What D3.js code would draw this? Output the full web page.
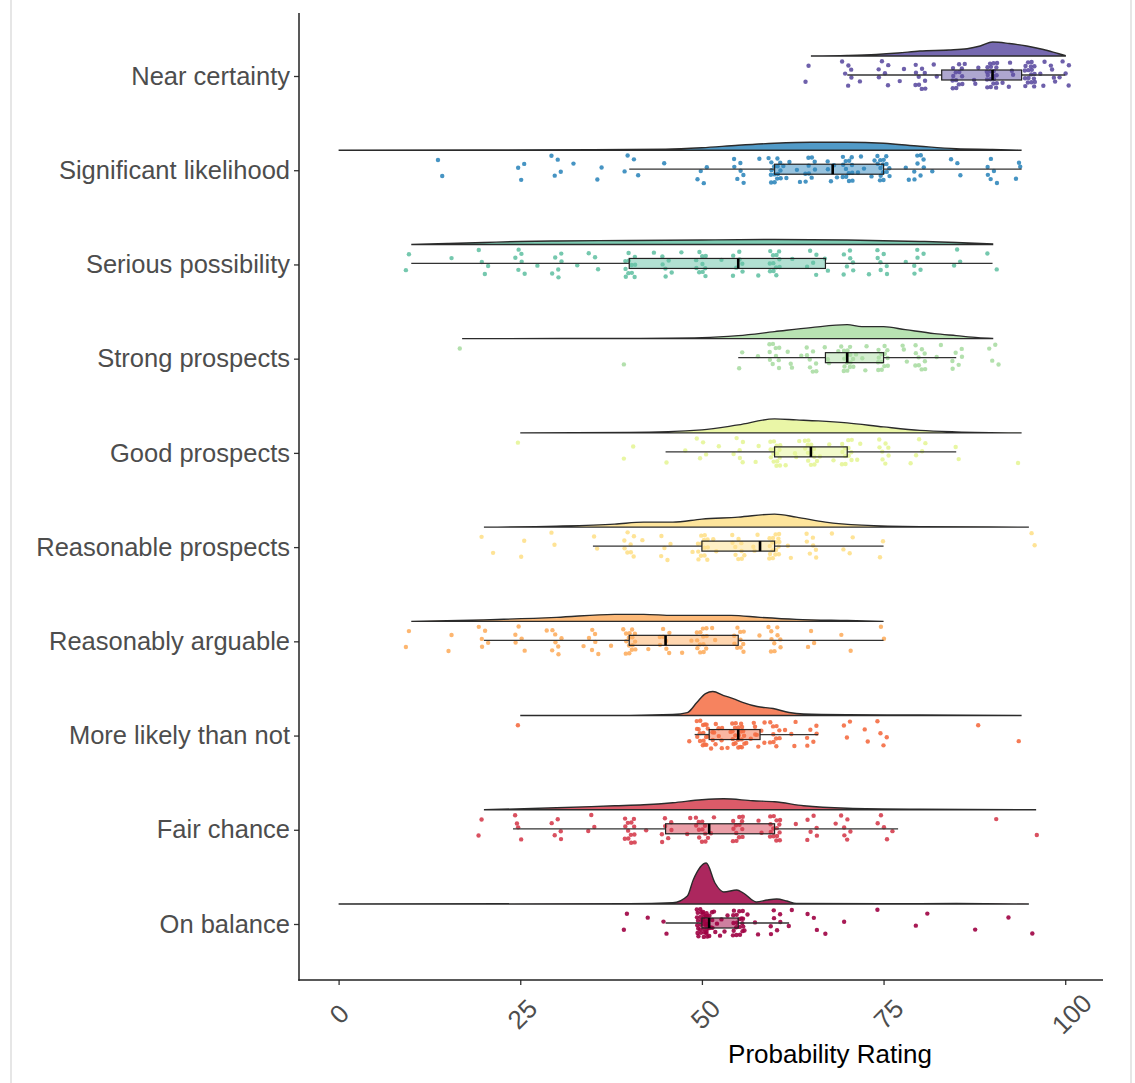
<!DOCTYPE html>
<html>
<head>
<meta charset="UTF-8">
<title>Probability Rating raincloud</title>
<script src="https://cdn.jsdelivr.net/npm/d3@7"></script>
<style>
  body { margin: 0; background: #fff; }
  svg text { font-family: "Liberation Sans", Arial, sans-serif; }
</style>
</head>
<body>
<script>
// categories, top to bottom
var categories = ["Near certainty", "Significant likelihood", "Serious possibility", "Strong prospects",
  "Good prospects", "Reasonable prospects", "Reasonably arguable", "More likely than not",
  "Fair chance", "On balance"];
var colors = ["#5e4fa2", "#3288bd", "#66c2a5", "#abdda4", "#e6f598",
  "#fee08b", "#fdae61", "#f46d43", "#d53e4f", "#9e0142"];
var xTicks = [0, 25, 50, 75, 100];

// ratings as [value, count]
var nearCertainty = [[65,2],[70,6],[72,1],[75,6],[77,1],[78,1],[80,10],[82,2],[85,13],[87,2],[88,2],[90,20],[92,3],[93,2],[95,18],[97,2],[98,3],[99,2],[100,5]];
var significantLikelihood = [[14,1],[15,1],[25,3],[30,4],[33,1],[35,1],[36,1],[40,3],[41,1],[45,1],[50,4],[55,7],[58,1],[60,15],[62,3],[63,2],[65,9],[68,5],[70,13],[72,3],[73,2],[75,15],[78,2],[80,8],[82,1],[85,3],[90,6],[93,2],[94,1]];
var seriousPossibility = [[10,2],[15,1],[20,4],[25,6],[28,1],[30,6],[33,1],[35,3],[40,11],[43,1],[45,6],[48,1],[50,10],[53,1],[55,7],[58,1],[60,12],[63,1],[65,5],[67,2],[70,7],[73,1],[75,7],[78,1],[80,6],[85,3],[90,2]];
var strongProspects = [[17,1],[40,1],[55,2],[58,1],[60,10],[62,2],[63,2],[65,8],[67,2],[68,2],[70,15],[72,3],[73,1],[75,13],[77,1],[78,2],[80,10],[82,1],[83,1],[85,6],[90,4]];
var goodProspects = [[25,1],[40,2],[45,1],[48,1],[50,4],[53,1],[55,6],[58,2],[60,15],[62,2],[63,2],[65,13],[67,2],[68,1],[70,12],[72,2],[75,8],[78,1],[80,4],[85,2],[94,1]];
var reasonableProspects = [[20,1],[22,1],[25,2],[30,2],[35,2],[40,8],[42,1],[45,5],[48,1],[50,13],[52,2],[55,10],[57,1],[58,2],[60,17],[62,2],[65,7],[68,1],[70,3],[75,2],[95,2]];
var reasonablyArguable = [[10,2],[15,2],[20,5],[25,5],[28,1],[30,7],[33,1],[35,6],[38,1],[40,15],[43,1],[45,8],[48,2],[50,13],[52,2],[55,10],[58,1],[60,10],[65,3],[70,2],[75,2]];
var moreLikely = [[25,1],[49,2],[50,13],[51,6],[52,9],[54,3],[55,18],[56,3],[57,3],[58,6],[60,10],[62,3],[63,1],[65,6],[70,3],[72,2],[75,4],[88,1],[94,1]];
var fairChance = [[20,2],[24,1],[25,3],[30,5],[35,3],[40,13],[42,1],[45,7],[48,2],[50,12],[52,2],[55,13],[58,2],[60,15],[63,1],[65,6],[68,1],[70,6],[75,4],[77,1],[90,1],[96,1]];
var onBalance = [[40,2],[42,1],[45,2],[50,30],[51,12],[52,4],[53,3],[55,18],[56,3],[57,2],[60,7],[62,2],[65,3],[67,1],[70,1],[75,1],[79,1],[81,1],[88,1],[93,1],[95,1]];
var ratings = [nearCertainty, significantLikelihood, seriousPossibility, strongProspects, goodProspects,
  reasonableProspects, reasonablyArguable, moreLikely, fairChance, onBalance];

// box stats: [lower whisker, q1, median, q3, upper whisker]
var boxStats = [[70,83,90,94,100],[40,60,68,75,94],[10,40,55,67,90],[55,67,70,75,85],[45,60,65,70,85],
  [35,50,58,60,75],[20,40,45,55,75],[49,51,55,58,66],[24,45,51,60,77],[45,50,51,55,62]];

// density curves: [value, relative density]
var densNear = [[65,0],[70,0.5],[74,1.5],[77,3],[80,5],[84,6],[86.5,7.3],[88.3,10],[90,14],[92.3,12.5],[94.7,10],[97,6.5],[99,2.5],[100,0.5]];
var densSignificant = [[0,0],[20,0.2],[35,0.4],[45,1],[50,2.5],[55,5],[60,7],[65,8],[70,8],[75,7],[80,4],[85,1.5],[90,0.8],[94,0]];
var densSerious = [[10,0],[15,1],[20,2],[25,3],[30,3.5],[40,4],[50,4.5],[60,5],[70,4.5],[80,3],[85,2],[90,0.5]];
var densStrong = [[17,0],[40,0.3],[50,1],[55,3],[60,7],[65,11],[70,14],[72,12],[75,12],[78,9],[82,5],[85,3],[88,1],[90,0.3]];
var densGood = [[25,0],[40,0.5],[50,3],[55,8],[60,14],[63,13],[66,12],[70,10],[75,6],[80,2.5],[85,1],[94,0]];
var densReasonable = [[20,0],[30,1],[38,3],[42,5],[46,5],[50,8],[55,10],[60,13],[63,10],[67,5],[72,2],[80,0.5],[95,0]];
var densArguable = [[10,0],[20,1.5],[30,4],[38,7],[42,7],[46,6],[50,6],[54,6],[58,4],[63,2],[70,0.8],[75,0]];
var densMoreLikely = [[25,0],[40,0.2],[46,1],[48,3],[49.3,13],[50.5,22],[51.5,24],[53,20],[54.3,17],[55.7,13],[57.6,9],[59.8,7],[62,3],[64,1.5],[70,0.8],[80,0.5],[94,0]];
var densFair = [[20,0],[30,2],[38,4],[42,5],[46,7],[50,10],[53,11],[57,9],[60,8],[64,4],[70,1.5],[80,0.5],[96,0]];
var densBalance = [[0,0],[40,0.3],[46,1.2],[48,8],[48.8,24],[50.6,41],[51.8,21],[53,12],[54.8,14],[55.7,11],[57.5,2],[59,4],[60.3,5],[61.7,3],[63,0.5],[75,0.3],[85,0.5],[95,0]];
var densities = [densNear, densSignificant, densSerious, densStrong, densGood,
  densReasonable, densArguable, densMoreLikely, densFair, densBalance];

var width = 1135, height = 1083;
var svg = d3.select("body").append("svg").attr("width", width).attr("height", height);

// faint frame lines
svg.append("line").attr("x1", 11).attr("x2", 11).attr("y1", 0).attr("y2", height).attr("stroke", "#e6e6e6").attr("stroke-width", 2);
svg.append("line").attr("x1", 1131).attr("x2", 1131).attr("y1", 0).attr("y2", height).attr("stroke", "#e6e6e6").attr("stroke-width", 2);

var x = d3.scaleLinear().domain([-5.45, 105.2]).range([299, 1103]);
var y = d3.scalePoint().domain(categories).range([76, 924]);
var dens = d3.scaleLinear().domain([0, 41]).range([0, 41]);

function frac(v) { return v - Math.floor(v); }

var g = svg.append("g");

categories.forEach(function(cat, i) {
  var cy = y(cat) - 1;
  var base = y(cat) - 20;
  var col = colors[i];

  // half violin
  var area = d3.area()
    .x(function(d) { return x(d[0]); })
    .y0(base)
    .y1(function(d) { return base - dens(d[1]); })
    .curve(d3.curveMonotoneX);
  g.append("path").datum(densities[i])
    .attr("d", area)
    .attr("fill", col).attr("fill-opacity", 0.85)
    .attr("stroke", "#2b2b2b").attr("stroke-width", 1.4);

  // jittered points
  var pts = [];
  ratings[i].forEach(function(r) { for (var k = 0; k < r[1]; k++) pts.push(r[0]); });
  g.append("g").selectAll("circle").data(pts).enter().append("circle")
    .attr("cx", function(d, j) { return x(d + (frac(j * 0.7548776662 + 0.31) - 0.5) * 1.7); })
    .attr("cy", function(d, j) { return cy + (frac(j * 0.5698402910 + 0.17) - 0.5) * 28; })
    .attr("r", 2.2)
    .attr("fill", col).attr("fill-opacity", 0.9);

  // box plot
  var b = boxStats[i];
  g.append("line").attr("x1", x(b[0])).attr("x2", x(b[1])).attr("y1", cy).attr("y2", cy)
    .attr("stroke", "#333").attr("stroke-width", 1.3);
  g.append("line").attr("x1", x(b[3])).attr("x2", x(b[4])).attr("y1", cy).attr("y2", cy)
    .attr("stroke", "#333").attr("stroke-width", 1.3);
  g.append("rect").attr("x", x(b[1])).attr("y", cy - 5).attr("width", x(b[3]) - x(b[1])).attr("height", 10)
    .attr("fill", col).attr("fill-opacity", 0.5)
    .attr("stroke", "#222").attr("stroke-width", 1.2);
  g.append("line").attr("x1", x(b[2])).attr("x2", x(b[2])).attr("y1", cy - 5).attr("y2", cy + 5)
    .attr("stroke", "#000").attr("stroke-width", 2.6);
});

// axes
var yAxis = svg.append("g").attr("transform", "translate(299,0)")
  .call(d3.axisLeft(y).tickSize(5).tickPadding(4));
yAxis.select(".domain").remove();
yAxis.selectAll("text").attr("font-size", 25.5).attr("fill", "#4d4d4d");
yAxis.selectAll("line").attr("stroke", "#333").attr("stroke-width", 1.3);

var xAxis = svg.append("g").attr("transform", "translate(0,980)")
  .call(d3.axisBottom(x).tickValues(xTicks).tickSize(5));
xAxis.select(".domain").remove();
xAxis.selectAll("line").attr("stroke", "#333").attr("stroke-width", 1.3);
xAxis.selectAll("text")
  .attr("y", 0).attr("dy", "0.35em")
  .attr("transform", function(d) { return "translate(" + (d / 100 * 6) + ",34) rotate(-45)"; })
  .attr("text-anchor", "middle")
  .attr("font-size", 26).attr("fill", "#4d4d4d");

svg.append("line").attr("x1", 299).attr("x2", 299).attr("y1", 13).attr("y2", 980.7)
  .attr("stroke", "#222").attr("stroke-width", 1.5);
svg.append("line").attr("x1", 298.3).attr("x2", 1103).attr("y1", 980).attr("y2", 980)
  .attr("stroke", "#222").attr("stroke-width", 1.5);

svg.append("text").attr("x", 830).attr("y", 1063).attr("text-anchor", "middle")
  .attr("font-size", 26).attr("fill", "#000").text("Probability Rating");
</script>
</body>
</html>
